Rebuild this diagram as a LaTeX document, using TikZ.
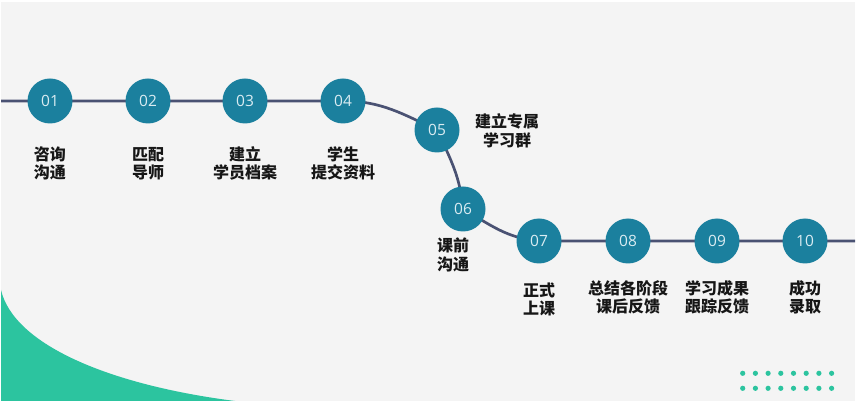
\documentclass[tikz,border=0pt]{standalone}
\usepackage{fontspec}
\setmainfont{Open Sans}
\newfontfamily\cjk{Noto Sans CJK SC}
\usetikzlibrary{backgrounds}
\definecolor{teal1}{RGB}{27,128,158}
\definecolor{numtext}{RGB}{218,236,242}
\definecolor{labtext}{RGB}{22,22,22}
\definecolor{linec}{RGB}{74,82,115}
\definecolor{bgc}{RGB}{244,244,244}
\definecolor{greenc}{RGB}{44,196,159}
\begin{document}
\begin{tikzpicture}[x=1pt,y=-1pt,
  stepnum/.style={circle,fill=teal1,minimum size=45pt,inner sep=0pt,text=numtext,font=\fontsize{15.5}{15.5}\selectfont},
  steplabel/.style={align=center,inner sep=0pt,font=\cjk\bfseries\fontsize{16}{18.5}\selectfont,text=labtext},
  pathline/.style={draw=linec,line width=2.7pt},
  dotc/.style={fill=greenc}]
\useasboundingbox (0,0) rectangle (860,403);
% step circles
\node[stepnum] (c1) at (50,101) {01};
\node[stepnum] (c2) at (148,101) {02};
\node[stepnum] (c3) at (245,101) {03};
\node[stepnum] (c4) at (343,101) {04};
\node[stepnum] (c5) at (437,130) {05};
\node[stepnum] (c6) at (463,209) {06};
\node[stepnum] (c7) at (539,241) {07};
\node[stepnum] (c8) at (628,241) {08};
\node[stepnum] (c9) at (717,241) {09};
\node[stepnum] (c10) at (805,241) {10};
\coordinate (L) at (1,101);
\coordinate (R) at (855,241);
% labels
\node[steplabel] (t1) at (50,163.5) {咨询\\沟通};
\node[steplabel] (t2) at (148,163.5) {匹配\\导师};
\node[steplabel] (t3) at (245,163.5) {建立\\学员档案};
\node[steplabel] (t4) at (343,163.5) {学生\\提交资料};
\node[steplabel] (t5) at (507,131) {建立专属\\学习群};
\node[steplabel] (t6) at (453,255) {课前\\沟通};
\node[steplabel] (t7) at (539,299.5) {正式\\上课};
\node[steplabel] (t8) at (628,297.5) {总结各阶段\\课后反馈};
\node[steplabel] (t9) at (717,297.5) {学习成果\\跟踪反馈};
\node[steplabel] (t10) at (805,297.5) {成功\\录取};
\begin{scope}[on background layer]
\fill[white] (0,0) rectangle (860,403);
\fill[bgc] (1,2) rectangle (855,401);
\fill[greenc] (1,290) .. controls (14,345) and (110,385) .. (235,401) -- (1,401) -- cycle;
\foreach \i in {0,...,7}{
  \fill[dotc] (742.7+12.7*\i,373.3) circle (2.6);
  \fill[dotc] (742.7+12.7*\i,388.3) circle (2.6);
}
\draw[pathline] (L) -- (c1.center) -- (c2.center) -- (c3.center) -- (c4.center)
  to[out=0,in=155] (c5.center) to[out=-65,in=95] (c6.center)
  to[out=-30,in=175] (c7.center) -- (c8.center) -- (c9.center) -- (c10.center) -- (R);
\end{scope}
\end{tikzpicture}
\end{document}
